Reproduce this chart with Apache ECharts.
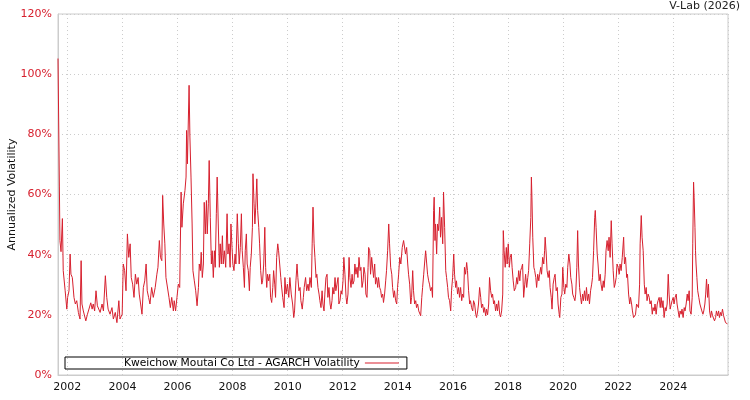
<!DOCTYPE html>
<html>
<head>
<meta charset="utf-8">
<script src="https://cdn.jsdelivr.net/npm/echarts@6/dist/echarts.min.js"></script>
<style>html,body{margin:0;padding:0;background:#fff}#c{width:750px;height:400px}</style>
</head>
<body>
<div id="c"></div>
<script>
const seriesName = 'Kweichow Moutai Co Ltd - AGARCH Volatility';
const sourceLabel = 'V-Lab (2026)';
const yTicks = [0, 20, 40, 60, 80, 100, 120];
const xTickYears = [2002, 2004, 2006, 2008, 2010, 2012, 2014, 2016, 2018, 2020, 2022, 2024];

const years = [
2001.66,2001.71,2001.73,2001.77,2001.82,2001.85,2001.92,2001.98,2002.01,2002.06,2002.10,2002.13,2002.18,2002.24,2002.29,2002.34,2002.40,2002.46,2002.50,2002.53,2002.58,2002.67,2002.73,2002.80,2002.85,2002.90,2002.94,2002.99,
2003.04,2003.09,2003.14,2003.19,2003.26,2003.31,2003.38,2003.43,2003.48,2003.55,2003.62,2003.67,2003.74,2003.80,2003.87,2003.91,2003.99,
2004.03,2004.08,2004.13,2004.18,2004.23,2004.28,2004.32,2004.37,2004.42,2004.47,2004.52,2004.57,2004.61,2004.66,2004.71,2004.76,2004.81,2004.86,2004.90,2004.95,
2005.00,2005.06,2005.12,2005.19,2005.25,2005.29,2005.34,2005.38,2005.43,2005.46,2005.50,2005.54,2005.58,2005.63,2005.69,2005.74,2005.79,2005.85,2005.88,2005.93,2005.98,
2006.03,2006.08,2006.13,2006.16,2006.21,2006.27,2006.31,2006.33,2006.36,2006.38,2006.42,2006.45,2006.49,2006.53,2006.56,2006.61,2006.66,2006.71,2006.76,2006.79,2006.83,2006.86,2006.90,2006.94,2006.97,
2007.01,2007.05,2007.08,2007.12,2007.15,2007.19,2007.23,2007.26,2007.30,2007.34,2007.37,2007.41,2007.44,2007.48,2007.52,2007.55,2007.59,2007.63,2007.66,2007.70,2007.75,2007.80,2007.83,2007.87,2007.91,2007.94,2007.98,
2008.01,2008.05,2008.09,2008.12,2008.17,2008.21,2008.24,2008.28,2008.32,2008.35,2008.39,2008.43,2008.46,2008.50,2008.53,2008.57,2008.61,2008.64,2008.68,2008.72,2008.74,2008.78,2008.81,2008.84,2008.88,2008.91,2008.95,2008.98,
2009.02,2009.06,2009.09,2009.13,2009.17,2009.20,2009.24,2009.27,2009.31,2009.35,2009.38,2009.42,2009.46,2009.49,2009.53,2009.56,2009.60,2009.64,2009.67,2009.71,2009.75,2009.77,2009.82,2009.87,2009.90,2009.94,2009.99,
2010.04,2010.08,2010.13,2010.18,2010.22,2010.25,2010.30,2010.34,2010.37,2010.41,2010.45,2010.48,2010.53,2010.57,2010.60,2010.65,2010.69,2010.74,2010.77,2010.81,2010.86,2010.89,2010.92,2010.96,2010.99,
2011.03,2011.06,2011.10,2011.14,2011.17,2011.21,2011.25,2011.28,2011.32,2011.35,2011.39,2011.43,2011.46,2011.50,2011.54,2011.57,2011.61,2011.64,2011.68,2011.72,2011.75,2011.79,2011.83,2011.86,2011.90,2011.94,2011.97,
2012.01,2012.04,2012.08,2012.12,2012.15,2012.19,2012.23,2012.26,2012.30,2012.34,2012.37,2012.41,2012.44,2012.48,2012.52,2012.55,2012.59,2012.63,2012.66,2012.70,2012.74,2012.77,2012.81,2012.84,2012.88,2012.92,2012.94,2012.98,
2013.01,2013.05,2013.09,2013.12,2013.16,2013.19,2013.23,2013.27,2013.30,2013.34,2013.38,2013.41,2013.45,2013.48,2013.52,2013.56,2013.59,2013.63,2013.67,2013.70,2013.74,2013.78,2013.81,2013.85,2013.88,2013.92,2013.96,2013.99,
2014.03,2014.07,2014.11,2014.16,2014.21,2014.25,2014.28,2014.32,2014.36,2014.39,2014.43,2014.47,2014.50,2014.54,2014.57,2014.61,2014.65,2014.68,2014.72,2014.76,2014.79,2014.83,2014.87,2014.90,2014.94,2014.97,
2015.01,2015.05,2015.08,2015.12,2015.15,2015.19,2015.23,2015.26,2015.30,2015.32,2015.35,2015.37,2015.41,2015.44,2015.48,2015.52,2015.55,2015.59,2015.63,2015.66,2015.70,2015.74,2015.77,2015.81,2015.84,2015.88,2015.92,2015.95,2015.99,
2016.03,2016.06,2016.10,2016.13,2016.17,2016.21,2016.24,2016.28,2016.32,2016.35,2016.39,2016.42,2016.46,2016.50,2016.53,2016.57,2016.61,2016.64,2016.68,2016.72,2016.75,2016.79,2016.83,2016.86,2016.90,2016.93,2016.97,
2017.01,2017.04,2017.08,2017.12,2017.15,2017.19,2017.22,2017.26,2017.30,2017.33,2017.37,2017.41,2017.44,2017.48,2017.51,2017.55,2017.59,2017.62,2017.66,2017.70,2017.73,2017.77,2017.81,2017.83,2017.86,2017.90,2017.94,2017.97,
2018.01,2018.05,2018.08,2018.12,2018.15,2018.19,2018.23,2018.28,2018.32,2018.35,2018.39,2018.43,2018.46,2018.50,2018.53,2018.57,2018.61,2018.64,2018.68,2018.72,2018.75,2018.79,2018.83,2018.85,2018.87,2018.90,2018.94,2018.97,
2019.01,2019.04,2019.08,2019.12,2019.15,2019.19,2019.22,2019.26,2019.30,2019.33,2019.35,2019.39,2019.42,2019.46,2019.50,2019.53,2019.57,2019.60,2019.64,2019.68,2019.71,2019.75,2019.79,2019.82,2019.86,2019.88,2019.92,2019.96,2019.99,
2020.03,2020.06,2020.10,2020.14,2020.17,2020.21,2020.25,2020.28,2020.32,2020.35,2020.39,2020.43,2020.46,2020.50,2020.53,2020.56,2020.60,2020.64,2020.67,2020.71,2020.74,2020.78,2020.82,2020.85,2020.89,2020.93,2020.96,
2021.00,2021.04,2021.07,2021.11,2021.15,2021.17,2021.20,2021.24,2021.27,2021.31,2021.35,2021.38,2021.42,2021.46,2021.49,2021.53,2021.56,2021.60,2021.64,2021.67,2021.71,2021.75,2021.78,2021.82,2021.86,2021.89,2021.93,2021.96,
2022.00,2022.04,2022.07,2022.11,2022.15,2022.20,2022.23,2022.27,2022.31,2022.34,2022.38,2022.42,2022.45,2022.49,2022.52,2022.56,2022.60,2022.63,2022.67,2022.71,2022.74,2022.78,2022.80,2022.84,2022.87,2022.91,2022.95,2022.98,
2023.02,2023.05,2023.09,2023.13,2023.16,2023.20,2023.24,2023.27,2023.31,2023.34,2023.38,2023.42,2023.45,2023.49,2023.53,2023.56,2023.60,2023.63,2023.67,2023.71,2023.74,2023.78,2023.82,2023.85,2023.89,2023.93,2023.96,
2024.00,2024.03,2024.07,2024.11,2024.14,2024.18,2024.22,2024.25,2024.29,2024.32,2024.36,2024.40,2024.43,2024.47,2024.51,2024.54,2024.58,2024.61,2024.65,2024.69,2024.71,2024.74,2024.76,2024.79,2024.81,2024.83,2024.86,2024.89,2024.93,2024.97,
2025.00,2025.04,2025.08,2025.11,2025.15,2025.18,2025.21,2025.25,2025.28,2025.32,2025.36,2025.39,2025.43,2025.46,2025.50,2025.54,2025.57,2025.61,2025.65,2025.68,2025.72,2025.75,2025.79,2025.83,2025.86,2025.90,2025.94,2025.97
];

const vol = [
105.2,62.5,44.7,41,52,34.7,28,21.9,25.8,28,40.2,33.5,32.4,25.8,23.6,24.7,20.8,18.6,38,23.6,21.3,18,20.2,20,24,21.9,23.6,21.3,
28,23,22.4,20.8,23.6,21.3,33,25.8,21.9,20.2,22.4,18.6,20.8,17.4,24.7,18.6,20.2,
36.9,34.7,28,46.9,39.1,43.6,32.4,30.2,25.8,33.5,30.2,32.4,26.9,23.6,20.2,29.1,31.3,36.9,28,25.8,
23.6,29.1,25.8,29.1,33.5,35.8,44.7,39.1,38,59.7,50.2,43.6,32.4,32.4,25.8,22.4,25.8,21.3,24.7,21.3,25.8,
30.2,29.1,60.8,49.1,56.9,61.3,65.8,81.3,70.2,79.1,96.3,79.1,65.8,50.2,34.7,31.3,28,23,29.1,36.9,34.7,40.8,32.4,36.9,57.4,
46.9,58,46.9,56.9,71.3,52.4,36.9,41.3,32.4,41.3,35.8,53.6,65.8,50.2,35.8,43.6,36.9,46.3,36.9,41.3,35.8,53.6,40.2,43.6,35.8,50.2,42.4,
36.9,34.7,40.2,36.9,53.6,43.6,36.9,42.4,53.6,41.3,35.8,29.1,41.3,46.9,36.9,34.7,28,35.8,40.2,49.1,66.9,56.9,50.2,55.8,65.2,54.7,49.1,43.6,
34.7,30.2,31.3,36.9,49.1,35.8,29.1,33.5,31.3,33.5,25.8,24.1,29.1,34.7,30.2,25.8,39.1,43.6,41.3,36.9,32.4,30.2,25.8,22.4,32.4,26.9,30.2,
25.8,32.4,26.9,23.6,19.1,21.3,31.3,36.9,32.4,28,29.1,24.7,21.9,25.8,29.1,32.4,28,30.2,28,32.4,29.1,43.6,55.8,43.6,39.1,
32.4,33.5,29.1,26.9,24.7,22.4,28,23.6,21.3,26.9,32.4,33.5,25.8,29.1,23.6,21.9,24.7,29.1,26.9,32.4,28,30.2,32.4,23.6,24.7,28,26.9,
31.3,39.1,33.5,25.8,23.6,26.9,39.1,32.4,29.1,33.5,30.2,31.3,36.9,33.5,35.8,32.4,39.1,34.7,35.8,29.1,31.3,35.8,33.5,26.9,25.8,35.8,42.4,41.3,
33.5,39.1,39.1,32.4,36.9,30.2,32.4,29.1,32.4,29.1,28,25.8,26.9,24.1,26.9,31.3,34.7,41.3,50.2,43.6,35.8,33.5,29.1,25.8,28,24.7,23.6,29.1,
33.5,39.1,36.9,42.4,44.7,45.2,40.2,42.4,36.9,33.5,30.2,23.6,25.8,34.7,28,23.6,24.7,22.4,23.6,21.3,21.9,19.7,25.8,29.1,33.5,36.9,
41.3,36.9,33.5,31.3,30.2,28,29.1,25.8,54.7,59.1,44.7,50.2,40.2,50.2,48,55.8,45.8,52.4,43.6,60.8,49.1,34.7,32.4,29.1,25.8,24.7,21.3,28,32.4,
40.2,33.5,29.1,31.3,26.9,29.1,25.8,29.1,24.7,26.9,25.8,35.8,33.5,37.4,34.7,28,23.6,24.7,22.4,21.3,24.7,23.6,20.2,19.1,21.3,23.6,29.1,
25.8,22.4,23.6,20.8,22.4,19.7,21.9,20,23.6,32.4,28,25.8,26.9,23.6,24.7,21.3,23.6,21.3,24.7,20.2,19.3,21.3,26.9,48,41.3,35.8,42.4,36.9,
43.6,35.8,39.1,40.2,35.8,31.3,28,29.1,32.4,30.2,34.7,31.3,34.7,35.8,36.9,25.8,30.2,33.5,29.1,32.4,34.7,43.6,52.4,65.8,59.1,45.8,35.8,34.7,
32.4,29.1,33.5,31.3,33.5,35.8,33.5,39.1,36.9,41.3,45.8,40.2,34.7,32.4,34.7,29.1,25.8,21.9,30.2,32.4,33.5,28,29.1,23.6,20.2,19.1,25.8,26.9,35.8,
29.1,26.9,30.2,29.1,35.8,40.2,36.9,32.4,30.2,26.9,25.8,24.7,26.9,35.8,48,36.9,29.1,25.8,23.6,26.9,24.7,28,24.7,29.1,24.7,26.9,23.6,
28,30.2,32.4,41.3,52.4,54.7,49.1,40.2,36.9,31.3,33.5,30.2,28,31.3,29.1,33.5,41.3,44.7,41.3,45.8,39.1,51.3,43.6,34.7,29.1,30.2,32.4,36.9,
35.8,33.5,36.9,34.7,39.1,45.8,36.9,39.1,32.4,33.5,26.9,23.6,25.8,23.6,21.3,19.1,19.3,20,23.6,23.6,22.4,30.2,43.6,53,45.8,41.3,30.2,26.9,
29.1,24.7,26.9,25.8,23.6,24.7,20.2,22.4,21.3,23.6,20.2,23.6,24.7,25.8,22.4,25.8,22.4,24.7,19.1,22.4,21.3,23.6,33.5,26.9,21.9,23.6,24.7,
25.8,23.6,25.8,26.9,23.6,21.3,19.1,21.3,20.2,21.9,19.1,22.4,21.3,23.6,26.9,24.7,28,21.3,20.2,25.8,43.6,64.1,59.1,49.1,41.3,36.9,32.4,28,25.8,23.6,
23.6,21.3,20.2,21.3,23.6,26.9,31.9,25.8,30.2,21.3,19.1,21.3,19.7,20.2,18,19.1,21.3,19.7,21.3,19.1,20.8,19.7,21.9,19.7,19.1,17.4,18,17
];

const data = years.map((y, i) => [y, vol[i]]);
const red = '#d7202e';
const font = 'DejaVu Sans';

const chart = echarts.init(document.getElementById('c'), null, {renderer: 'canvas'});
chart.setOption({
  animation: false,
  backgroundColor: '#fff',
  title: {
    text: sourceLabel, right: 10, top: 1, padding: 0,
    textStyle: {fontFamily: font, fontSize: 11, fontWeight: 'normal', color: '#222'}
  },
  legend: {
    left: 65, top: 357, padding: [0, 8, 0, 59],
    borderColor: '#000', borderWidth: 1, borderRadius: 0,
    align: 'right', itemWidth: 34, itemHeight: 1, icon: 'rect',
    textStyle: {fontFamily: font, fontSize: 10.7, color: '#000', lineHeight: 12},
    data: [seriesName]
  },
  grid: {left: 58, right: 22, top: 14, bottom: 25, show: true, borderColor: '#ccc', borderWidth: 1, outerBoundsMode: 'none', containLabel: false},
  xAxis: {
    type: 'value', min: 2001.66, max: 2025.99, splitNumber: 12,
    axisLine: {show: true, lineStyle: {color: '#ccc'}},
    axisTick: {show: false},
    axisLabel: {
      fontFamily: font, fontSize: 11, color: '#111', margin: 7,
      showMinLabel: false, showMaxLabel: false,
      formatter: v => xTickYears.indexOf(Math.round(v)) >= 0 && Math.abs(v - Math.round(v)) < 1e-6 ? String(Math.round(v)) : ''
    },
    splitLine: {show: true, lineStyle: {color: '#ccc', type: [1, 3], width: 1}}
  },
  yAxis: {
    type: 'value', min: yTicks[0], max: yTicks[yTicks.length - 1], interval: 20,
    name: 'Annualized Volatility', nameLocation: 'middle', nameGap: 40, nameMoveOverlap: false,
    nameTextStyle: {fontFamily: font, fontSize: 11, color: '#111'},
    axisLine: {show: true, lineStyle: {color: '#ccc'}},
    axisTick: {show: false},
    axisLabel: {fontFamily: font, fontSize: 11, color: red, margin: 6, formatter: '{value}%'},
    splitLine: {show: true, lineStyle: {color: '#ccc', type: [1, 3], width: 1}}
  },
  series: [{
    name: seriesName, type: 'line', data: data, symbol: 'none', showSymbol: false,
    lineStyle: {color: red, width: 1}, itemStyle: {color: red}
  }]
});
</script>
</body>
</html>
